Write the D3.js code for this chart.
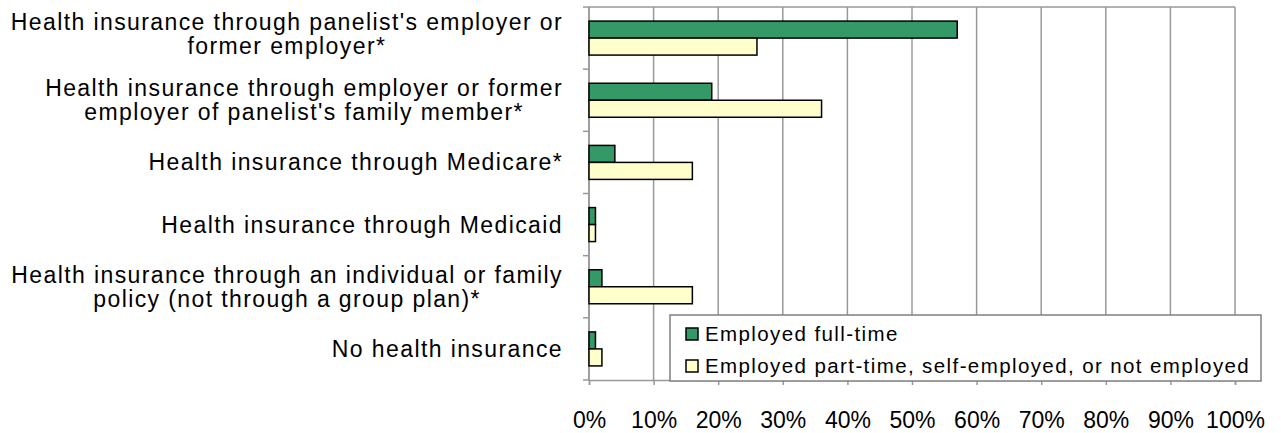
<!DOCTYPE html>
<html>
<head>
<meta charset="utf-8">
<script src="https://cdn.jsdelivr.net/npm/d3@7"></script>
<style>
  html, body { margin: 0; padding: 0; background: #fff; }
  svg { display: block; font-family: "Liberation Sans", Arial, sans-serif; }
  .cat { font-size: 23px; letter-spacing: 1.4px; fill: #000; }
  .tick-x { font-size: 23px; fill: #000; }
  .leg { font-size: 20.5px; letter-spacing: 1.4px; fill: #000; }
</style>
</head>
<body>
<div id="chart"></div>
<script>
/* Horizontal grouped bars: health insurance source by employment status */
const categories = [
  ["Health insurance through panelist's employer or", "former employer*"],
  ["Health insurance through employer or former", "employer of panelist's family member*"],
  ["Health insurance through Medicare*"],
  ["Health insurance through Medicaid"],
  ["Health insurance through an individual or family", "policy (not through a group plan)*"],
  ["No health insurance"]
];
const seriesNames = ["Employed full-time", "Employed part-time, self-employed, or not employed"];
const fullTime = [57, 19, 4, 1, 2, 1];
const partTime = [26, 36, 16, 1, 16, 2];
const xTicks = [0, 10, 20, 30, 40, 50, 60, 70, 80, 90, 100];
const colors = ["#339966", "#ffffcc"];

const W = 1281, H = 433;
const m = { top: 7, right: 46, bottom: 53, left: 589 };

const svg = d3.select("#chart").append("svg")
  .attr("width", W).attr("height", H).attr("viewBox", `0 0 ${W} ${H}`);

const x = d3.scaleLinear().domain([0, 100]).range([m.left, W - m.right]);
const y = d3.scaleBand().domain(d3.range(categories.length)).range([m.top, H - m.bottom]);
const inner = d3.scaleBand().domain([0, 1])
  .range([y.bandwidth() / 2 - 17, y.bandwidth() / 2 + 17]);

// gridlines
svg.append("g").selectAll("line").data(xTicks).join("line")
  .attr("x1", x).attr("x2", x).attr("y1", m.top).attr("y2", H - m.bottom)
  .attr("stroke", "#999").attr("stroke-width", 1.5);
// top border
svg.append("line").attr("x1", m.left).attr("x2", W - m.right)
  .attr("y1", m.top).attr("y2", m.top).attr("stroke", "#999").attr("stroke-width", 1.5);

// axes
const xAxis = svg.append("g").attr("transform", `translate(0,${H - m.bottom})`)
  .call(d3.axisBottom(x).tickValues(xTicks).tickSize(5).tickFormat(d => d + "%"));
xAxis.select(".domain").attr("stroke", "#999").attr("stroke-width", 1.5);
xAxis.selectAll(".tick line").attr("stroke", "#999").attr("stroke-width", 1.5);
xAxis.selectAll(".tick text").attr("class", "tick-x").attr("font-size", null)
  .attr("font-family", null).attr("y", 48).attr("dy", null);

const yTickVals = d3.range(categories.length + 1).map(i => m.top + i * y.step());
svg.append("line").attr("x1", m.left).attr("x2", m.left)
  .attr("y1", m.top).attr("y2", H - m.bottom).attr("stroke", "#999").attr("stroke-width", 1.5);
svg.append("g").selectAll("line").data(yTickVals).join("line")
  .attr("x1", m.left - 6).attr("x2", m.left).attr("y1", d => d).attr("y2", d => d)
  .attr("stroke", "#999").attr("stroke-width", 1.5);

// bars
const series = [fullTime, partTime];
series.forEach((vals, s) => {
  svg.append("g").selectAll("rect").data(vals).join("rect")
    .attr("x", x(0))
    .attr("y", (d, i) => y(i) + inner(s))
    .attr("width", d => x(d) - x(0))
    .attr("height", inner.bandwidth())
    .attr("fill", colors[s]).attr("stroke", "#000").attr("stroke-width", 1.5);
});

// category labels: lines centered on each other, block right-aligned
const lh = 24;
categories.forEach((lines, i) => {
  const cy = y(i) + y.bandwidth() / 2;
  const widths = lines.map(t => {
    const tmp = svg.append("text").attr("class", "cat").text(t);
    const w = tmp.node().getComputedTextLength();
    tmp.remove();
    return w;
  });
  const maxW = d3.max(widths);
  const right = 563;
  const cx = right - maxW / 2;
  // first label sits a little higher, as in the source layout
  const shift = i === 0 ? -4 : 0;
  lines.forEach((t, j) => {
    svg.append("text").attr("class", "cat")
      .attr("x", cx).attr("text-anchor", "middle")
      .attr("y", cy + (j - (lines.length - 1) / 2) * lh + 8 + shift)
      .text(t);
  });
});

// legend
const lg = svg.append("g").attr("transform", "translate(670,315)");
lg.append("rect").attr("width", 591).attr("height", 66)
  .attr("fill", "#fff").attr("stroke", "#808080").attr("stroke-width", 1.5);
seriesNames.forEach((n, i) => {
  lg.append("rect").attr("x", 16).attr("y", 13 + i * 32).attr("width", 12).attr("height", 12)
    .attr("fill", colors[i]).attr("stroke", "#000").attr("stroke-width", 1.5);
  lg.append("text").attr("class", "leg").attr("x", 35).attr("y", 26 + i * 32).text(n);
});
</script>
</body>
</html>
